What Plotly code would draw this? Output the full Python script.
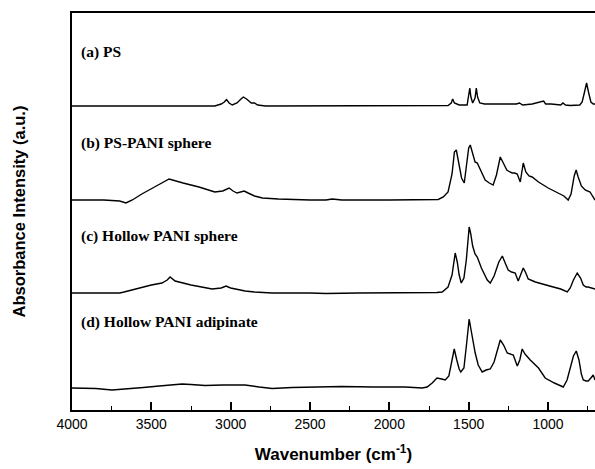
import plotly.graph_objects as go

# ---- data (wavenumber in cm^-1, absorbance in arbitrary offset units) ----
wn_a = [4000, 3300, 3100, 3060, 3040, 3026, 3010, 2990, 2960, 2935, 2920, 2900, 2870, 2850, 2830, 2780,
        2500, 2350, 2200, 1700, 1630, 1610, 1601, 1590, 1560, 1510, 1500, 1493, 1486, 1475, 1460, 1452,
        1444, 1430, 1400, 1300, 1200, 1180, 1160, 1100, 1070, 1040, 1028, 1015, 980, 920, 906, 890, 860,
        800, 785, 770, 757, 745, 730, 715, 704]
ab_a = [304, 304, 304, 306, 308, 310.5, 307, 305, 307, 311, 313, 311, 307, 307, 305, 304,
        304, 304, 304, 304, 304.5, 307, 311, 307, 305, 305, 314, 322, 313, 307, 312, 322,
        313, 307, 306, 306, 306, 307, 305, 306, 307, 308, 309, 306, 306, 305, 307, 305, 304.5,
        305, 308, 318, 327, 318, 308, 306, 306]

wn_b = [4000, 3800, 3700, 3660, 3620, 3560, 3480, 3420, 3388, 3300, 3200, 3100, 3050, 3010, 2985,
        2960, 2935, 2915, 2890, 2850, 2800, 2700, 2500, 2400, 2360, 2300, 2000, 1800, 1720, 1692, 1660,
        1630, 1605, 1590, 1578, 1565, 1545, 1528, 1515, 1500, 1490, 1475, 1460, 1446, 1420, 1396, 1370,
        1346, 1325, 1301, 1285, 1260, 1240, 1226, 1210, 1194, 1175, 1165, 1156, 1140, 1120, 1100, 1060,
        999, 960, 936, 900, 873, 855, 835, 823, 810, 790, 766, 750, 735, 720, 704]
ab_b = [210, 210, 209, 207, 210, 216, 223, 228, 231, 227, 223, 218, 219, 222, 219,
        217, 218, 219, 217, 214, 212, 211, 210, 210, 211, 210, 210, 210, 210, 210.5, 213,
        218, 236, 258, 260, 248, 232, 227, 245, 262, 265, 255, 248, 247, 238, 230, 227,
        225, 235, 253, 248, 240, 238, 237, 237, 236, 228, 238, 247, 238, 234, 233, 228,
        222, 219, 217, 214, 210, 216, 234, 240, 233, 224, 220, 219, 218, 214, 210]

wn_c = [4000, 3800, 3700, 3672, 3600, 3500, 3433, 3400, 3382, 3365, 3350, 3250, 3117, 3060, 3029,
        3000, 2909, 2850, 2739, 2500, 2400, 2200, 1900, 1700, 1667, 1630, 1605, 1595, 1585, 1572, 1560,
        1547, 1530, 1515, 1505, 1497, 1487, 1475, 1460, 1446, 1420, 1383, 1364, 1340, 1310, 1288, 1270,
        1251, 1230, 1207, 1188, 1172, 1156, 1140, 1125, 1080, 1020, 967, 920, 879, 860, 840, 816, 795,
        778, 760, 747, 730, 704]
ab_c = [117, 117.5, 117, 118, 121, 125, 127, 130, 133, 131, 129, 125, 121, 122, 124,
        122, 119, 118, 117, 117, 116.5, 117, 117, 117.5, 118, 123, 135, 148, 157, 148, 135,
        127, 132, 150, 172, 183, 176, 164, 156, 153, 142, 130, 127, 134, 148, 154, 147,
        140, 138, 137, 129, 135, 142, 137, 131, 128, 125, 123, 121, 118, 122, 130, 137, 132,
        125, 123, 123, 122, 121]

wn_d = [4000, 3850, 3748, 3650, 3550, 3450, 3388, 3306, 3250, 3161, 3050, 2909, 2821, 2739, 2613,
        2424, 2300, 2100, 1900, 1793, 1762, 1730, 1700, 1670, 1648, 1625, 1605, 1591, 1575, 1560, 1550,
        1530, 1512, 1497, 1485, 1470, 1459, 1440, 1415, 1390, 1364, 1340, 1315, 1301, 1280, 1257, 1219,
        1194, 1178, 1163, 1145, 1131, 1112, 1060, 1018, 960, 904, 880, 860, 840, 822, 805, 790, 778,
        760, 747, 730, 715, 704]
ab_d = [22, 21.5, 20, 21, 22.5, 24, 25, 26, 25.5, 24.5, 25, 25, 23, 21.5, 22.5,
        23.5, 23.5, 23, 23, 22, 23, 27, 32, 31, 30, 34, 48, 61, 50, 41, 38,
        42, 68, 91, 80, 66, 57, 45, 38, 40, 41, 48, 63, 70, 65, 57, 55,
        44, 50, 61, 56, 53, 50, 42, 32, 27, 23, 30, 43, 54, 59, 50, 36, 30,
        29, 29, 32, 35, 30]

labels = ["(a) PS", "(b) PS-PANI sphere", "(c) Hollow PANI sphere", "(d) Hollow PANI adipinate"]
label_y = [358, 267, 174, 88]

x_range = [4000, 704]
y_range = [0, 397]
major_ticks = [4000, 3500, 3000, 2500, 2000, 1500, 1000]

fig = go.Figure()
for wn, ab in [(wn_a, ab_a), (wn_b, ab_b), (wn_c, ab_c), (wn_d, ab_d)]:
    fig.add_trace(go.Scatter(x=wn, y=ab, mode="lines",
                             line=dict(color="black", width=1.4), showlegend=False,
                             hoverinfo="skip"))

for txt, yv in zip(labels, label_y):
    fig.add_annotation(x=3955, y=yv, text="<b>" + txt + "</b>", showarrow=False,
                       xanchor="left", yanchor="middle",
                       font=dict(family="Liberation Serif", size=15.5, color="black"))

fig.update_layout(
    width=595, height=469,
    margin=dict(l=72, r=0, t=13, b=59),
    paper_bgcolor="white", plot_bgcolor="white",
    font=dict(family="Liberation Sans", color="black"),
    xaxis=dict(range=x_range, tickvals=major_ticks, ticks="inside", ticklen=8, tickwidth=1.5,
               tickcolor="black", showgrid=False, zeroline=False, showline=True,
               linecolor="black", linewidth=1.6, mirror=True,
               tickfont=dict(family="Liberation Sans", size=14, color="black"),
               minor=dict(dtick=250, tick0=0, ticks="inside", ticklen=4, tickwidth=1.2,
                          tickcolor="black", showgrid=False),
               title=dict(text="<b>Wavenumber (cm<sup>-1</sup>)</b>", standoff=18,
                          font=dict(family="Liberation Sans", size=17, color="black"))),
    yaxis=dict(range=y_range, showticklabels=False, ticks="", showgrid=False, zeroline=False,
               showline=True, linecolor="black", linewidth=1.6, mirror=False,
               title=dict(text="<b>Absorbance Intensity (a.u.)</b>", standoff=40,
                          font=dict(family="Liberation Sans", size=16.5, color="black"))),
)

fig.write_html("out.html")
